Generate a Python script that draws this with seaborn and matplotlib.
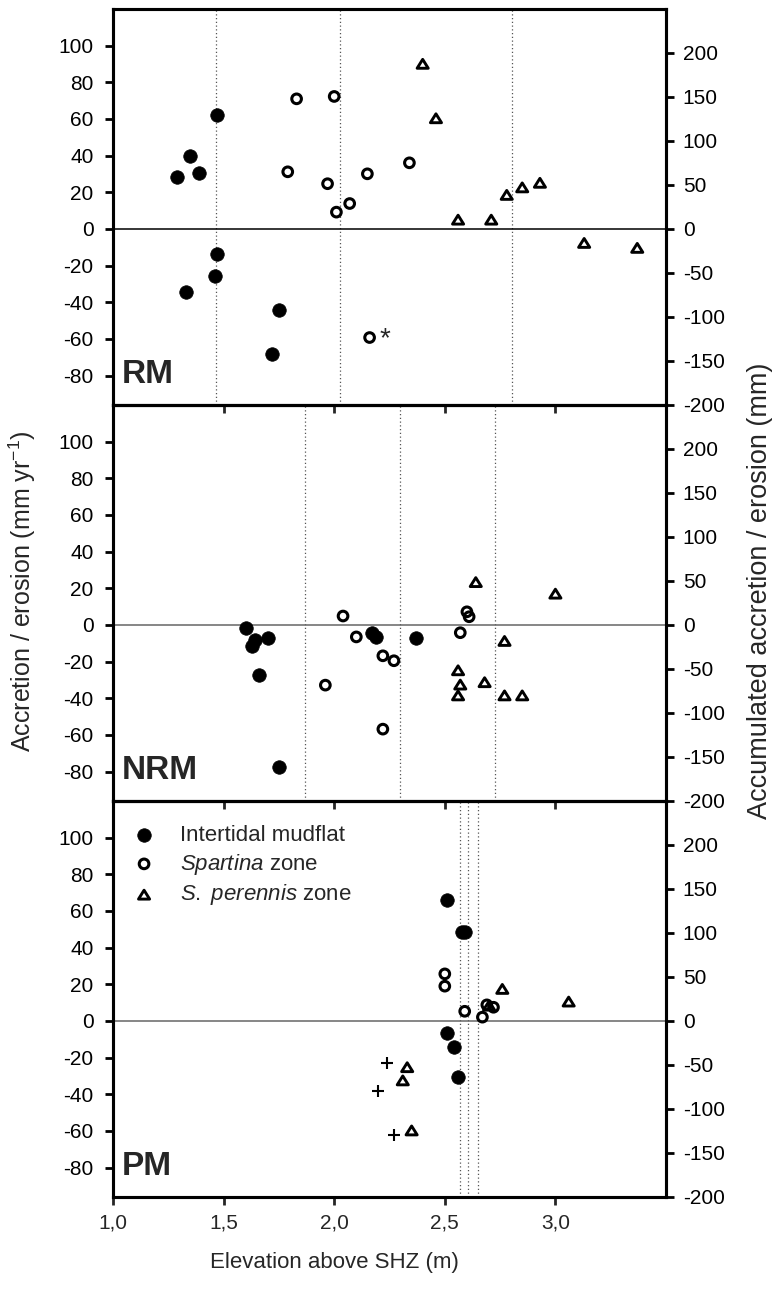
import numpy as np
import pandas as pd
import matplotlib
matplotlib.use("Agg")
import matplotlib.pyplot as plt
from matplotlib.ticker import FixedLocator, FuncFormatter
from matplotlib.markers import MarkerStyle
from matplotlib.path import Path
import seaborn as sns

sns.set_style("ticks")
plt.rcParams["font.family"] = ["Liberation Sans", "DejaVu Sans"]
plt.rcParams["mathtext.fontset"] = "custom"
plt.rcParams["mathtext.rm"] = "Liberation Sans"
plt.rcParams["mathtext.it"] = "Liberation Sans:italic"
plt.rcParams["axes.unicode_minus"] = False

# ---- RM ----
rm_mud_x = [1.29, 1.35, 1.39, 1.47, 1.47, 1.46, 1.33, 1.75, 1.72]
rm_mud_y = [28.6, 39.8, 30.8, 62.4, -13.9, -25.4, -34.2, -44.3, -68.3]
rm_spa_x = [1.83, 2.00, 1.79, 1.97, 2.15, 2.34, 2.07, 2.01, 2.16]
rm_spa_y = [71.0, 72.3, 31.2, 24.7, 30.1, 36.1, 13.9, 9.2, -59.2]
rm_per_x = [2.40, 2.46, 2.56, 2.71, 2.78, 2.85, 2.93, 3.13, 3.37]
rm_per_y = [90.1, 60.4, 5.1, 5.1, 18.6, 22.7, 25.2, -7.6, -10.3]
rm_zones = [1.465, 2.028, 2.804]

# ---- NRM ----
nrm_mud_x = [1.60, 1.64, 1.63, 1.70, 1.66, 1.75, 2.17, 2.19, 2.37]
nrm_mud_y = [-1.8, -8.1, -11.7, -6.9, -27.2, -77.4, -4.5, -6.3, -6.9]
nrm_spa_x = [2.04, 2.10, 2.22, 2.27, 1.96, 2.22, 2.60, 2.61, 2.57]
nrm_spa_y = [4.9, -6.5, -16.8, -19.5, -32.8, -56.8, 7.2, 4.5, -4.2]
nrm_per_x = [2.64, 3.00, 2.77, 2.56, 2.57, 2.56, 2.68, 2.77, 2.85]
nrm_per_y = [23.4, 17.1, -8.7, -24.7, -32.5, -38.4, -31.2, -38.4, -38.4]
nrm_zones = [1.867, 2.299, 2.725]

# ---- PM ----
pm_mud_x = [2.51, 2.58, 2.59, 2.51, 2.54, 2.56]
pm_mud_y = [66.0, 48.8, 48.8, -6.6, -14.3, -30.6]
pm_spa_x = [2.50, 2.50, 2.59, 2.67, 2.69, 2.72]
pm_spa_y = [25.7, 19.0, 5.3, 2.1, 8.8, 7.5]
pm_per_x = [2.76, 3.06, 2.70, 2.33, 2.31, 2.35]
pm_per_y = [17.5, 10.6, 8.4, -25.2, -32.4, -59.7]
pm_plus_x = [2.24, 2.20, 2.27]
pm_plus_y = [-23.0, -38.3, -62.4]
pm_zones = [2.567, 2.607, 2.649]

sites = ["RM", "NRM", "PM"]
zone_labels = ["Intertidal mudflat", r"$\it{Spartina}$ zone", r"$\it{S.}$ $\it{perennis}$ zone"]
x_ticks = [1.0, 1.5, 2.0, 2.5, 3.0]
left_ticks = list(range(-80, 101, 20))
right_ticks = list(range(-200, 201, 50))

frames = []
for site, groups in [
    ("RM", [("mud", rm_mud_x, rm_mud_y), ("spa", rm_spa_x, rm_spa_y), ("per", rm_per_x, rm_per_y)]),
    ("NRM", [("mud", nrm_mud_x, nrm_mud_y), ("spa", nrm_spa_x, nrm_spa_y), ("per", nrm_per_x, nrm_per_y)]),
    ("PM", [("mud", pm_mud_x, pm_mud_y), ("spa", pm_spa_x, pm_spa_y), ("per", pm_per_x, pm_per_y),
            ("plus", pm_plus_x, pm_plus_y)]),
]:
    for zone, xs, ys in groups:
        frames.append(pd.DataFrame({"site": site, "zone": zone, "elev": xs, "rate": ys}))
df = pd.concat(frames, ignore_index=True)
zone_lines = {"RM": rm_zones, "NRM": nrm_zones, "PM": pm_zones}

tri = MarkerStyle(Path([(-1, -0.8), (1, -0.8), (0, 0.8), (-1, -0.8)], closed=True))
styles = {
    "mud": dict(marker="o", s=95, color="black", edgecolor="black", linewidth=0.5),
    "spa": dict(marker="o", s=48, facecolor="none", edgecolor="black", linewidth=2.2),
    "per": dict(marker=tri, s=64, facecolor="none", edgecolor="black", linewidth=2.1),
    "plus": dict(marker="+", s=80, color="black", linewidth=1.5),
}
legend_names = {"mud": zone_labels[0], "spa": zone_labels[1], "per": zone_labels[2], "plus": "_nolegend_"}

fig = plt.figure(figsize=(7.76, 12.89), dpi=100)
left, width = 113 / 776, 553 / 776
bottom0 = 1 - 1197 / 1289
h = (1197 - 9) / 3 / 1289

axes = []
for i, site in enumerate(sites):
    ax = fig.add_axes([left, bottom0 + (2 - i) * h, width, h])
    ax.patch.set_facecolor("none")
    axes.append(ax)
    sub = df[df["site"] == site]

    for xv in zone_lines[site]:
        ax.axvline(xv, color="#555555", lw=0.9, ls=(0, (1, 2)), zorder=1)
    ax.axhline(0, color="black" if i == 0 else "#666666", lw=1.1, zorder=1)

    for zone, kw in styles.items():
        d = sub[sub["zone"] == zone]
        if d.empty:
            continue
        sns.scatterplot(data=d, x="elev", y="rate", ax=ax, zorder=3,
                        label=legend_names[zone], legend=False, **kw)

    if site == "RM":
        odd = sub[(sub["zone"] == "spa") & (sub["rate"] < -50)].iloc[0]
        ax.annotate("*", xy=(odd["elev"], odd["rate"]), xytext=(7, -1),
                    textcoords="offset points", fontsize=20, ha="left", va="center")

    ax.set_xlim(1.0, 3.5)
    ax.set_ylim(-96, 120)
    ax.xaxis.set_major_locator(FixedLocator(x_ticks))
    ax.xaxis.set_major_formatter(FuncFormatter(lambda v, p: f"{v:.1f}".replace(".", ",")))
    ax.yaxis.set_major_locator(FixedLocator(left_ticks))
    ax.tick_params(axis="y", left=True, right=False, direction="out", length=6, width=2,
                   labelsize=15, pad=8, colors="black")
    ax.tick_params(axis="x", bottom=True, top=False, direction="out", length=6, width=2,
                   labelsize=15, pad=6, labelbottom=(i == 2))
    ax.set_xlabel("")
    ax.set_ylabel("")
    for sp in ax.spines.values():
        sp.set_linewidth(2.2)
        sp.set_color("black")

    ax2 = ax.twinx()
    ax2.set_ylim(-200, 250)
    ax2.yaxis.set_major_locator(FixedLocator(right_ticks))
    ax2.tick_params(axis="y", right=True, direction="out", length=6, width=2,
                    labelsize=15, pad=6, colors="black")
    for sp in ax2.spines.values():
        sp.set_linewidth(2.2)
        sp.set_color("black")

    ax.text(0.015, 0.055, site, transform=ax.transAxes, fontsize=24, fontweight="bold",
            ha="left", va="baseline", zorder=5)

    if i == 1:
        ax.set_ylabel("Accretion / erosion (mm yr$^{-1}$)", fontsize=18)
        ax.yaxis.set_label_coords(-0.136, 0.53)
        ax2.set_ylabel("Accumulated accretion / erosion (mm)", fontsize=19.5)
        ax2.yaxis.set_label_coords(1.147, 0.53)
    if i == 2:
        ax.set_xlabel("Elevation above SHZ (m)", fontsize=16)
        ax.xaxis.set_label_coords(0.4, -0.14)
        ax.legend(loc="upper left", bbox_to_anchor=(0.02, 0.962), frameon=False,
                  fontsize=16, handlelength=1.0, handletextpad=1.1, labelspacing=0.26,
                  borderaxespad=0, scatterpoints=1)

fig.savefig("out.png", dpi=100)
